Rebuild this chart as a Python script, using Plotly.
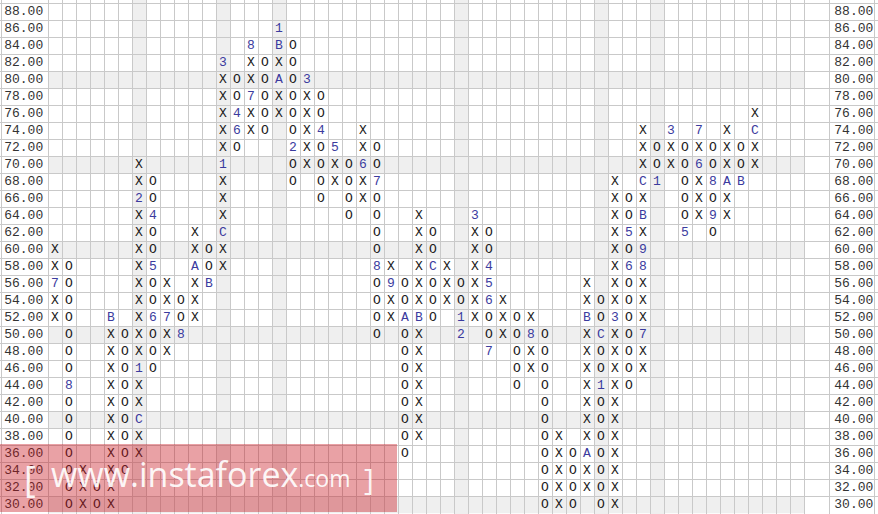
import plotly.graph_objects as go

# ---------------- data ----------------
col_types = "XOXOXOXOXOXOXOXOXOXOXOXOXOXOXOXOXOXOXOXOXOXOXOXOXOX"
col_low = [52, 30, 30, 30, 30, 34, 36, 46, 48, 50, 52, 56, 58, 72, 74, 74, 76, 68, 70, 66,
           68, 64, 66, 50, 52, 36, 38, 52, 54, 50, 52, 48, 50, 44, 46, 30, 30, 30, 32, 30,
           30, 44, 46, 68, 70, 62, 64, 62, 64, 68, 70]
col_high = [60, 58, 34, 32, 52, 50, 70, 68, 56, 54, 62, 60, 82, 80, 84, 82, 86, 84, 80, 78,
            72, 70, 74, 72, 58, 56, 64, 62, 58, 56, 64, 62, 54, 52, 52, 50, 38, 36, 56, 54,
            68, 66, 74, 72, 74, 72, 74, 72, 74, 72, 76]

mark_col = [0, 1, 4, 6, 6, 6, 7, 7, 7, 8, 9, 10, 11, 12, 12, 12, 13, 13, 14, 14,
            16, 16, 16, 17, 18, 19, 20, 22, 23, 23, 24, 25, 26, 27, 29, 29, 30, 31, 31, 31,
            31, 34, 38, 38, 39, 39, 40, 41, 41, 42, 42, 42, 42, 42, 43, 44, 45, 46, 46, 47,
            47, 48, 49, 50]
mark_price = [56, 44, 52, 40, 46, 66, 64, 58, 52, 52, 50, 58, 56, 62, 70, 82, 76, 74, 78, 84,
              80, 84, 86, 72, 80, 74, 72, 70, 68, 58, 56, 52, 52, 58, 52, 50, 64, 58, 56, 54,
              48, 50, 36, 52, 50, 44, 52, 62, 58, 50, 58, 60, 64, 68, 68, 74, 62, 70, 74, 68,
              64, 68, 68, 74]
mark_label = ["7", "8", "B", "C", "1", "2", "4", "5", "6", "7", "8", "A", "B", "C", "1", "3", "4", "6", "7", "8",
              "A", "B", "1", "2", "3", "4", "5", "6", "7", "8", "9", "A", "B", "C", "1", "2", "3", "4", "5", "6",
              "7", "8", "A", "B", "C", "1", "3", "5", "6", "7", "8", "9", "B", "C", "1", "3", "5", "6", "7", "8",
              "9", "A", "B", "C"]

price_levels = list(range(88, 28, -2))
price_labels = [f"{p:.2f}" for p in price_levels]

N_COLS = 54
BOX = 2

# ---------------- build marks ----------------
marks = {(c, p): l for c, p, l in zip(mark_col, mark_price, mark_label)}
sx, sy, st = [], [], []
mx, my, mt = [], [], []
for c, (t, lo, hi) in enumerate(zip(col_types, col_low, col_high)):
    for p in range(lo, hi + 1, BOX):
        if (c, p) in marks:
            mx.append(c); my.append(p); mt.append(marks[(c, p)])
        else:
            sx.append(c); sy.append(p); st.append(t)

gray_cols = sorted(set(c for c, l in zip(mark_col, mark_label) if l == "1"))
gray_rows = [p for p in price_levels if p % 10 == 0]

MONO = "Courier New, Liberation Mono, DejaVu Sans Mono, monospace"

fig = go.Figure()
fig.add_trace(go.Scatter(x=sx, y=sy, text=st, mode="text", hoverinfo="skip",
                         textfont=dict(family=MONO, size=13, color="#1a1a1a"),
                         textposition="middle center"))
fig.add_trace(go.Scatter(x=mx, y=my, text=mt, mode="text", hoverinfo="skip",
                         textfont=dict(family=MONO, size=13, color="#3b3b9e"),
                         textposition="middle center"))
# price labels left and right
fig.add_trace(go.Scatter(x=[-2.236] * len(price_levels), y=price_levels, text=price_labels,
                         mode="text", hoverinfo="skip",
                         textfont=dict(family=MONO, size=13, color="#333333")))
fig.add_trace(go.Scatter(x=[57.057] * len(price_levels), y=price_levels, text=price_labels,
                         mode="text", hoverinfo="skip",
                         textfont=dict(family=MONO, size=13, color="#333333")))

shapes = []
for c in gray_cols:
    shapes.append(dict(type="rect", xref="x", yref="paper", x0=c - 0.5, x1=c + 0.5, y0=0, y1=1,
                       fillcolor="#efefef", line=dict(width=0), layer="below"))
for p in gray_rows:
    shapes.append(dict(type="rect", xref="x", yref="y", x0=-0.5, x1=N_COLS - 0.5, y0=p - 1, y1=p + 1,
                       fillcolor="#efefef", line=dict(width=0), layer="below"))
# watermark
shapes.append(dict(type="rect", xref="paper", yref="paper", x0=0, x1=397 / 878,
                   y0=1 - 512 / 514, y1=1 - 444 / 514,
                   fillcolor="rgba(200,20,30,0.40)", line=dict(width=0), layer="above"))

x_grid = [-3.807] + [c - 0.5 for c in range(N_COLS + 1)] + [55.31, 58.57]
y_grid = [p + 1 for p in price_levels] + [price_levels[-1] - 1]

annotations = [
    dict(xref="paper", yref="paper", x=30 / 878, y=1 - 478 / 514, text="[", showarrow=False,
         font=dict(family="Open Sans", size=36, color="rgba(255,255,255,0.92)"),
         xanchor="center", yanchor="middle"),
    dict(xref="paper", yref="paper", x=49 / 878, y=1 - 474 / 514,
         text="www.instaforex<span style='font-size:23px'>.com</span>", showarrow=False,
         font=dict(family="Open Sans", size=34, color="rgba(255,255,255,0.92)"),
         xanchor="left", yanchor="middle"),
    dict(xref="paper", yref="paper", x=369 / 878, y=1 - 478 / 514, text="]", showarrow=False,
         font=dict(family="Open Sans", size=30, color="rgba(255,255,255,0.92)"),
         xanchor="center", yanchor="middle"),
]

fig.update_layout(
    width=878, height=514, autosize=False,
    margin=dict(l=0, r=0, t=0, b=0),
    paper_bgcolor="white", plot_bgcolor="white",
    showlegend=False,
    shapes=shapes, annotations=annotations,
    xaxis=dict(range=[-55 / 14, 823 / 14], tickvals=x_grid, showticklabels=False, ticks="",
               showgrid=True, gridcolor="#c9c9c9", gridwidth=1, zeroline=False, showline=False,
               fixedrange=True),
    yaxis=dict(range=[88 - (514 - 11.7) / 8.5, 88 + 11.7 / 8.5], tickvals=y_grid,
               showticklabels=False, ticks="", showgrid=True, gridcolor="#c9c9c9", gridwidth=1,
               zeroline=False, showline=False, fixedrange=True),
)

fig.write_html("out.html", config={"displayModeBar": False},
               post_script="document.body.style.margin='0';document.body.style.padding='0';"
                           "document.documentElement.style.overflow='hidden';")
